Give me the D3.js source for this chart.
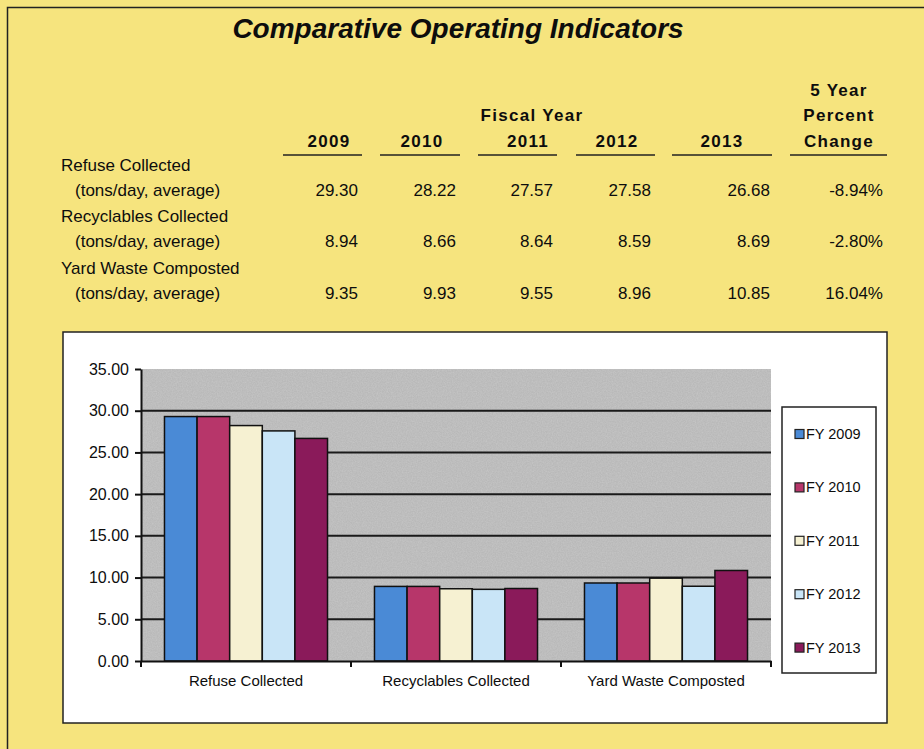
<!DOCTYPE html>
<html lang="en">

<head>
    <meta charset="UTF-8">
    <title>Comparative Operating Indicators</title>
    <style>
        body { margin: 0; background: #f6e47e; }
        svg text { font-family: "Liberation Sans", Arial, sans-serif; fill: #0d0d0d; }
    </style>
</head>

<body>
    <svg id="chart" width="924" height="749"></svg>

    <script src="https://d3js.org/d3.v7.min.js"></script>
    <script>

        // table data
        var years = ["2009", "2010", "2011", "2012", "2013"]
        var rowNames = ["Refuse Collected", "Recyclables Collected", "Yard Waste Composted"]
        var refuseRow = ["29.30", "28.22", "27.57", "27.58", "26.68", "-8.94%"]
        var recycleRow = ["8.94", "8.66", "8.64", "8.59", "8.69", "-2.80%"]
        var yardRow = ["9.35", "9.93", "9.55", "8.96", "10.85", "16.04%"]

        // chart data (as drawn in the bar chart)
        var categories = ["Refuse Collected", "Recyclables Collected", "Yard Waste Composted"]
        var seriesNames = ["FY 2009", "FY 2010", "FY 2011", "FY 2012", "FY 2013"]
        var fy2009 = [29.30, 8.94, 9.35]
        var fy2010 = [29.30, 8.94, 9.35]
        var fy2011 = [28.22, 8.66, 9.93]
        var fy2012 = [27.58, 8.59, 8.96]
        var fy2013 = [26.68, 8.69, 10.85]
        var yTicks = [0, 5, 10, 15, 20, 25, 30, 35]

        var colors = ["#4a8ad6", "#b7366a", "#f6f1d2", "#c9e5f7", "#8a1a5a"]

        var svg = d3.select("#chart")

        // speckled texture for the plot area
        var filt = svg.append("defs").append("filter").attr("id", "speckle")
            .attr("x", 0).attr("y", 0).attr("width", 1).attr("height", 1)
        filt.append("feTurbulence").attr("type", "fractalNoise").attr("baseFrequency", 0.8)
            .attr("numOctaves", 2).attr("seed", 3).attr("result", "noise")
        filt.append("feColorMatrix").attr("in", "noise").attr("type", "matrix")
            .attr("values", "0 0 0 0 1  0 0 0 0 1  0 0 0 0 1  0 0 0 0.22 -0.06").attr("result", "spots")
        filt.append("feComposite").attr("in", "spots").attr("in2", "SourceGraphic").attr("operator", "atop")

        // page background + border
        svg.append("rect").attr("width", 924).attr("height", 749).attr("fill", "#f6e47e")
        svg.append("path").attr("d", "M7.5,749 V7.5 H924")
            .attr("fill", "none").attr("stroke", "#222").attr("stroke-width", 1.5)

        // title
        svg.append("text")
            .attr("x", 458).attr("y", 38)
            .attr("text-anchor", "middle")
            .style("font-size", "28px").style("font-weight", "bold").style("font-style", "italic")
            .text("Comparative Operating Indicators")

        // ---- table ----
        var colCenter = [329, 422, 528, 617, 722, 839]
        var colRight = [358, 456, 553, 651, 770, 883]
        var underline = [[283, 362], [380, 460], [478, 557], [576, 655], [672, 772], [790, 887]]

        var hdr = svg.append("g").style("font-size", "17px").style("font-weight", "bold")
            .style("letter-spacing", "1.3px").attr("text-anchor", "middle")
        hdr.append("text").attr("x", 839).attr("y", 96).text("5 Year")
        hdr.append("text").attr("x", 839).attr("y", 121).text("Percent")
        hdr.append("text").attr("x", 532).attr("y", 121).text("Fiscal Year")
        hdr.selectAll("text.yr")
            .data(years.concat(["Change"]))
            .enter()
            .append("text")
            .attr("class", "yr")
            .attr("x", function (d, i) { return colCenter[i] })
            .attr("y", 147)
            .text(function (d) { return d })

        svg.selectAll("line.ul")
            .data(underline)
            .enter()
            .append("line")
            .attr("x1", function (d) { return d[0] }).attr("x2", function (d) { return d[1] })
            .attr("y1", 155).attr("y2", 155)
            .attr("stroke", "#222").attr("stroke-width", 1.5)

        var rows = [refuseRow, recycleRow, yardRow]
        var rowY = [171, 222, 274]
        var tbl = svg.append("g").style("font-size", "17px")
        rows.forEach(function (r, ri) {
            tbl.append("text").attr("x", 61).attr("y", rowY[ri]).text(rowNames[ri])
            tbl.append("text").attr("x", 75).attr("y", rowY[ri] + 25).text("(tons/day, average)")
            tbl.selectAll("text.v" + ri)
                .data(r)
                .enter()
                .append("text")
                .attr("x", function (d, i) { return colRight[i] })
                .attr("y", rowY[ri] + 25)
                .attr("text-anchor", "end")
                .text(function (d) { return d })
        })

        // ---- bar chart ----
        svg.append("rect")
            .attr("x", 63).attr("y", 332).attr("width", 824).attr("height", 391)
            .attr("fill", "#fff").attr("stroke", "#222").attr("stroke-width", 1.5)

        var plotLeft = 141, plotRight = 771, plotTop = 369, plotBottom = 661

        var y = d3.scaleLinear().domain([0, 35]).range([plotBottom, plotTop])
        var x0 = d3.scaleBand().domain(categories).range([plotLeft, plotRight])
        var x1 = d3.scaleBand().domain(seriesNames).range([0, x0.bandwidth()]).paddingOuter(0.72)
        var color = d3.scaleOrdinal().domain(seriesNames).range(colors)

        svg.append("rect")
            .attr("x", plotLeft).attr("y", plotTop)
            .attr("width", plotRight - plotLeft).attr("height", plotBottom - plotTop)
            .attr("fill", "#b9b9b9")
            .attr("filter", "url(#speckle)")

        // gridlines
        svg.append("g")
            .selectAll("line")
            .data(yTicks.filter(function (d) { return d > 0 && d < 35 }))
            .enter()
            .append("line")
            .attr("x1", plotLeft).attr("x2", plotRight)
            .attr("y1", function (d) { return y(d) }).attr("y2", function (d) { return y(d) })
            .attr("stroke", "#1a1a1a").attr("stroke-width", 2)

        var series = [fy2009, fy2010, fy2011, fy2012, fy2013]
        var bars = []
        series.forEach(function (s, si) {
            s.forEach(function (v, ci) {
                bars.push({ cat: categories[ci], name: seriesNames[si], value: v })
            })
        })

        svg.append("g")
            .selectAll("rect")
            .data(bars)
            .enter()
            .append("rect")
            .attr("x", function (d) { return x0(d.cat) + x1(d.name) })
            .attr("y", function (d) { return y(d.value) })
            .attr("width", x1.bandwidth())
            .attr("height", function (d) { return plotBottom - y(d.value) })
            .attr("fill", function (d) { return color(d.name) })
            .attr("stroke", "#111").attr("stroke-width", 1.5)

        // axes
        var yAxis = svg.append("g")
            .attr("transform", "translate(" + plotLeft + ",0)")
            .call(d3.axisLeft(y).tickValues(yTicks).tickFormat(d3.format(".2f")).tickSize(6).tickSizeOuter(0))
        yAxis.select(".domain").attr("stroke", "#111").attr("stroke-width", 2)
        yAxis.selectAll(".tick line").attr("stroke", "#111").attr("stroke-width", 2)
        yAxis.selectAll(".tick text").attr("x", -12).style("font-size", "16px")
            .style("font-family", "Liberation Sans, Arial, sans-serif").attr("fill", "#0d0d0d")

        var xAxis = svg.append("g")
            .attr("transform", "translate(0," + plotBottom + ")")
            .call(d3.axisBottom(x0).tickSize(0).tickSizeOuter(0).tickPadding(14))
        xAxis.select(".domain").attr("stroke", "#111").attr("stroke-width", 2)
        xAxis.selectAll(".tick text").style("font-size", "15px")
            .style("font-family", "Liberation Sans, Arial, sans-serif").attr("fill", "#0d0d0d")

        // category separators on x axis
        svg.append("g")
            .selectAll("line")
            .data([0, 1, 2, 3])
            .enter()
            .append("line")
            .attr("x1", function (d) { return plotLeft + d * x0.step() })
            .attr("x2", function (d) { return plotLeft + d * x0.step() })
            .attr("y1", plotBottom).attr("y2", plotBottom + 6)
            .attr("stroke", "#111").attr("stroke-width", 2)

        // legend
        svg.append("rect")
            .attr("x", 782).attr("y", 407).attr("width", 94).attr("height", 266)
            .attr("fill", "#fff").attr("stroke", "#222").attr("stroke-width", 1.5)

        var legend = svg.append("g")
            .selectAll("g")
            .data(seriesNames)
            .enter()
            .append("g")
            .attr("transform", function (d, i) { return "translate(795," + (434 + i * 53.4) + ")" })
        legend.append("rect")
            .attr("x", 0).attr("y", -4.5).attr("width", 9).attr("height", 9)
            .attr("fill", function (d) { return color(d) })
            .attr("stroke", "#222").attr("stroke-width", 1.2)
        legend.append("text")
            .attr("x", 11).attr("y", 5)
            .style("font-size", "14.5px")
            .text(function (d) { return d })
    </script>

</body>

</html>
